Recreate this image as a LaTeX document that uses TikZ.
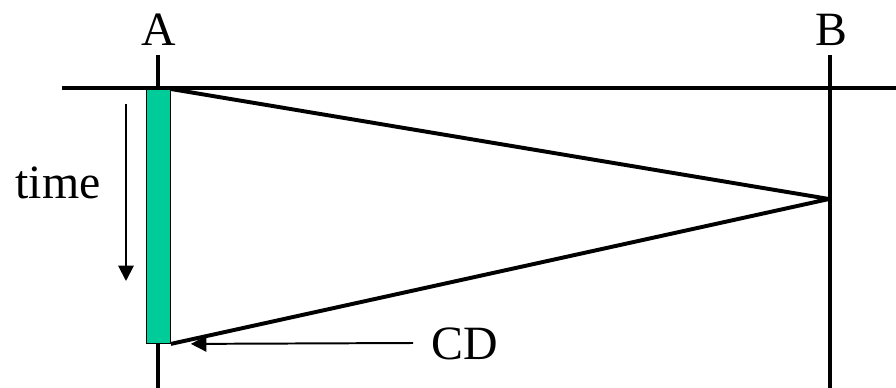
\documentclass[tikz,border=0pt]{standalone}
\usepackage{fontspec}
\setmainfont{Liberation Serif}
\usetikzlibrary{arrows.meta}
\definecolor{barteal}{HTML}{00CC99}

\begin{document}
\begin{tikzpicture}[x=0.025cm, y=-0.025cm,
    lbl/.style={font=\fontsize{34}{40}\selectfont, inner sep=0pt},
    site/.style={line width=2.2pt},
    signal/.style={line width=2.8pt, line join=round},
    pointer/.style={line width=1.4pt, -{Triangle[length=11pt, width=11pt]}}]
\useasboundingbox (0,0) rectangle (896,388);
% sites and time axis
\node[lbl] (labelA) at (159,30) {A};
\node[lbl] (labelB) at (831,30) {B};
\coordinate (topA) at (158,55);
\coordinate (botA) at (158,388);
\coordinate (topB) at (830,55);
\coordinate (botB) at (830,388);
\draw[site] (topA) -- (botA);
\draw[site] (topB) -- (botB);
\draw[line width=3.4pt] (62,88) -- (896,88);
% transmission bar
\node[draw=black, line width=0.6pt, fill=barteal, inner sep=0pt,
      minimum width=0.6cm, minimum height=6.35cm, anchor=north west] (bar) at (146,89) {};
\coordinate (apex) at (829,199);
\draw[signal] (bar.north east) -- (apex) -- (bar.south east);
% time arrow and labels
\node[lbl] (timelbl) at (58,183) {time};
\coordinate (tfrom) at (126,104);
\coordinate (tto) at (126,281);
\draw[pointer] (tfrom) -- (tto);
\node[lbl, anchor=west] (cdlbl) at (431,344) {CD};
\coordinate (cdfrom) at (413,343);
\coordinate (cdto) at ([xshift=0.5cm]bar.south east);
\draw[pointer] (cdfrom) -- (cdto);
\end{tikzpicture}
\end{document}
